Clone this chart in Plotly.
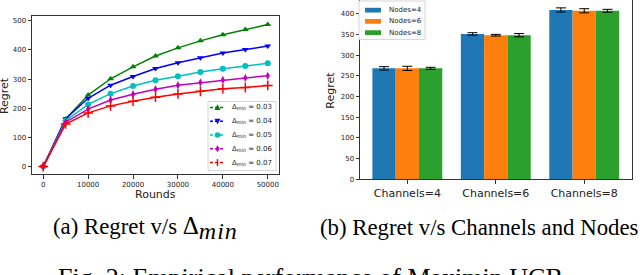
import plotly.graph_objects as go

# ---------------- data ----------------
rounds = [0, 5000, 10000, 15000, 20000, 25000, 30000, 35000, 40000, 45000, 50000]
regret_d003 = [0, 163, 245, 301, 342, 379, 407, 431, 452, 470, 487]
regret_d004 = [0, 164, 234, 279, 309, 336, 356, 373, 389, 401, 413]
regret_d005 = [0, 157, 213, 250, 276, 296, 310, 324, 335, 345, 354]
regret_d006 = [0, 152, 197, 228, 248, 265, 279, 288, 297, 304, 311]
regret_d007 = [0, 146, 184, 208, 224, 238, 249, 258, 267, 271, 278]
delta_values = ["0.03", "0.04", "0.05", "0.06", "0.07"]

channels = ["Channels=4", "Channels=6", "Channels=8"]
node_labels = ["Nodes=4", "Nodes=6", "Nodes=8"]
regret_nodes4 = [268, 351, 409]
regret_nodes6 = [268, 348, 407]
regret_nodes8 = [268, 348, 407]
err_nodes4 = [4, 3, 5]
err_nodes6 = [5, 2, 5]
err_nodes8 = [2.5, 4, 3.5]

x_ticks_left = [0, 10000, 20000, 30000, 40000, 50000]
y_ticks_left = [0, 100, 200, 300, 400, 500]
y_ticks_right = [0, 50, 100, 150, 200, 250, 300, 350, 400]

# ---------------- helpers ----------------
W, H = 640, 275


def px(x):
    return x / W


def py(y):
    return 1 - y / H


line_colors = ["#008000", "#0000ff", "#00bfbf", "#bf00bf", "#ff0000"]
symbols = ["triangle-up", "triangle-down", "circle", "diamond-tall", "cross-thin"]
bar_colors = ["#1f77b4", "#ff7f0e", "#2ca02c"]
series_left = [regret_d003, regret_d004, regret_d005, regret_d006, regret_d007]
series_right = [regret_nodes4, regret_nodes6, regret_nodes8]
errs_right = [err_nodes4, err_nodes6, err_nodes8]

fig = go.Figure()

for ys, c, s in zip(series_left, line_colors, symbols):
    fig.add_trace(go.Scatter(
        x=rounds, y=ys, mode="lines+markers",
        line=dict(color=c, width=1.5),
        marker=dict(symbol=s, size=6 if s != "cross-thin" else 7, color=c,
                    line=dict(color=c, width=1.5 if s == "cross-thin" else 0)),
        showlegend=False, xaxis="x", yaxis="y"))

for ys, es, c in zip(series_right, errs_right, bar_colors):
    fig.add_trace(go.Bar(
        x=list(range(len(channels))), y=ys,
        marker=dict(color=c, line=dict(width=0)),
        error_y=dict(type="data", array=es, color="black", thickness=1, width=5),
        showlegend=False, xaxis="x2", yaxis="y2"))

tickfont = dict(family="DejaVu Sans", size=7, color="#222")
axis_common = dict(showgrid=False, zeroline=False, showline=True, linecolor="#333",
                   linewidth=0.8, ticks="outside", ticklen=3.5, tickwidth=0.8,
                   tickcolor="#333", tickfont=tickfont)

fig.update_layout(
    width=W, height=H, margin=dict(l=0, r=0, t=0, b=0),
    paper_bgcolor="white", plot_bgcolor="white",
    barmode="group", bargap=0.21, bargroupgap=0,
    xaxis=dict(domain=[px(32), px(279)], range=[-2500, 52500], tickvals=x_ticks_left,
               ticktext=[str(v) for v in x_ticks_left], mirror=True, anchor="y", **axis_common),
    yaxis=dict(domain=[py(177), py(16)], range=[-27, 517], tickvals=y_ticks_left,
               mirror=True, anchor="x", **axis_common),
    xaxis2=dict(domain=[px(360), px(632)], range=[-0.535, 2.54],
                tickvals=list(range(len(channels))), ticktext=channels, mirror=False,
                anchor="y2", **{**axis_common,
                                "tickfont": dict(family="DejaVu Sans", size=11, color="#222")}),
    yaxis2=dict(domain=[py(182), 1.0], range=[0, 433], tickvals=y_ticks_right,
                mirror=True, anchor="x2", **axis_common),
)

shapes = []
annotations = []

# axis titles
title_font = dict(family="DejaVu Sans", size=11, color="#222")
annotations.append(dict(text="Regret", x=px(4.5), y=py(97), xref="paper", yref="paper",
                        textangle=-90, showarrow=False, font=title_font,
                        xanchor="center", yanchor="middle"))
annotations.append(dict(text="Rounds", x=px(155.5), y=py(197), xref="paper", yref="paper",
                        showarrow=False, font=title_font, xanchor="center", yanchor="middle"))
annotations.append(dict(text="Regret", x=px(331), y=py(92), xref="paper", yref="paper",
                        textangle=-90, showarrow=False, font=title_font,
                        xanchor="center", yanchor="middle"))

# left legend (manual, compact like matplotlib)
shapes.append(dict(type="rect", xref="paper", yref="paper", x0=px(208), x1=px(276),
                   y0=py(173), y1=py(103), line=dict(color="#cccccc", width=0.8),
                   fillcolor="white", layer="above"))


def marker_path(kind, cx, cy, r=3.0):
    if kind == "triangle-up":
        pts = [(cx - r, cy + r * 0.85), (cx + r, cy + r * 0.85), (cx, cy - r * 1.05)]
    elif kind == "triangle-down":
        pts = [(cx - r, cy - r * 0.85), (cx + r, cy - r * 0.85), (cx, cy + r * 1.05)]
    elif kind == "diamond-tall":
        pts = [(cx, cy - r * 1.2), (cx + r * 0.7, cy), (cx, cy + r * 1.2), (cx - r * 0.7, cy)]
    else:
        return None
    d = "M " + " L ".join(f"{px(a)},{py(b)}" for a, b in pts) + " Z"
    return d


for i, (c, s, dv) in enumerate(zip(line_colors, symbols, delta_values)):
    yc = 109 + 14 * i
    shapes.append(dict(type="line", xref="paper", yref="paper", x0=px(210), x1=px(225),
                       y0=py(yc), y1=py(yc), line=dict(color=c, width=1.5, dash="3px,2px"),
                       layer="above"))
    cx = 217.5
    if s == "circle":
        shapes.append(dict(type="circle", xref="paper", yref="paper", x0=px(cx - 2.8),
                           x1=px(cx + 2.8), y0=py(yc + 2.8), y1=py(yc - 2.8),
                           fillcolor=c, line=dict(width=0), layer="above"))
    elif s == "cross-thin":
        shapes.append(dict(type="line", xref="paper", yref="paper", x0=px(cx), x1=px(cx),
                           y0=py(yc - 3.5), y1=py(yc + 3.5), line=dict(color=c, width=1.5),
                           layer="above"))
    else:
        shapes.append(dict(type="path", xref="paper", yref="paper",
                           path=marker_path(s, cx, yc), fillcolor=c,
                           line=dict(width=0), layer="above"))
    annotations.append(dict(text=f"Δ<sub>min</sub> = {dv}", x=px(230), y=py(yc),
                            xref="paper", yref="paper", showarrow=False,
                            xanchor="left", yanchor="middle",
                            font=dict(family="DejaVu Sans", size=7, color="#222")))

# right legend
shapes.append(dict(type="rect", xref="paper", yref="paper", x0=px(359), x1=px(425),
                   y0=py(40), y1=py(1), line=dict(color="#cccccc", width=0.8),
                   fillcolor="white", layer="above"))
for i, (c, lab) in enumerate(zip(bar_colors, node_labels)):
    yc = 10.3 + 11.4 * i
    shapes.append(dict(type="rect", xref="paper", yref="paper", x0=px(365), x1=px(381),
                       y0=py(yc + 2.4), y1=py(yc - 2.4), fillcolor=c, line=dict(width=0),
                       layer="above"))
    annotations.append(dict(text=lab, x=px(387), y=py(yc), xref="paper", yref="paper",
                            showarrow=False, xanchor="left", yanchor="middle",
                            font=dict(family="DejaVu Sans", size=7, color="#222")))

# captions
cap_font = dict(family="Liberation Serif", size=22.8, color="black")
annotations.append(dict(
    text="(a) Regret v/s <span style='font-size:25px'>Δ</span><sub>"
         "<span style='font-family:Liberation Serif;font-size:24px;letter-spacing:1px'>"
         "<i>min</i></span></sub>",
    x=px(51), y=py(231), xref="paper", yref="paper", showarrow=False, xanchor="left",
    yanchor="middle", font=cap_font))
annotations.append(dict(text="(b) Regret v/s Channels and Nodes", x=px(318), y=py(231),
                        xref="paper", yref="paper", showarrow=False, xanchor="left",
                        yanchor="middle", font=cap_font))
annotations.append(dict(text="Fig. 2: Empirical performance of Maximin UCB", x=px(56),
                        y=py(282), xref="paper", yref="paper", showarrow=False,
                        xanchor="left", yanchor="middle",
                        font=dict(family="Liberation Serif", size=26, color="black")))

fig.update_layout(shapes=shapes, annotations=annotations)
fig.write_html("out.html", config={"displayModeBar": False},
               post_script="document.body.style.margin='0';")
